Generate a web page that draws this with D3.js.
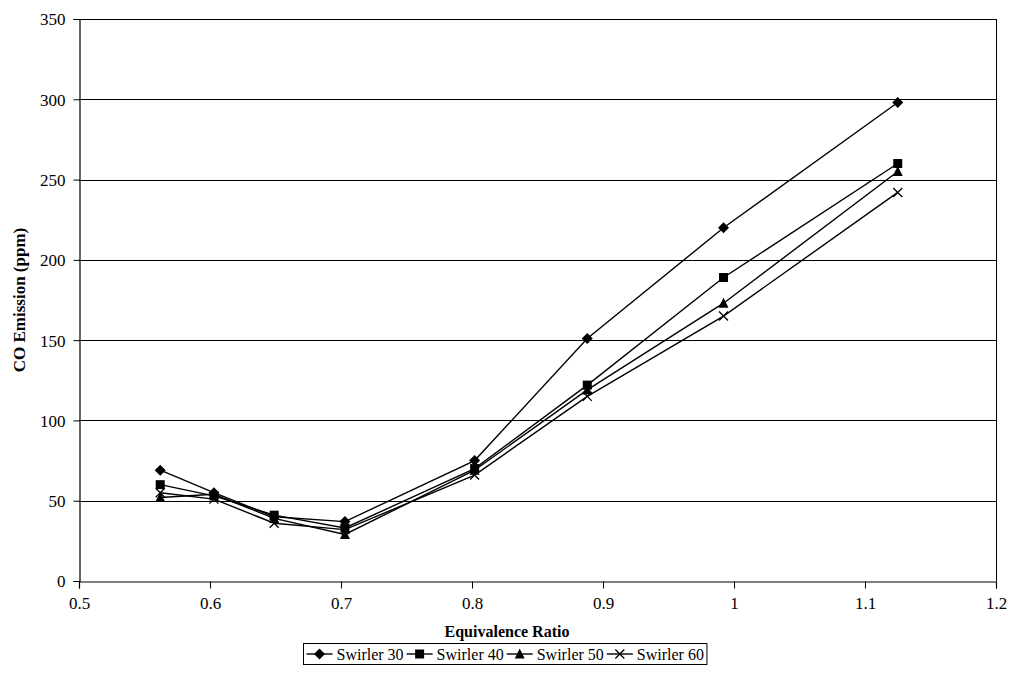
<!DOCTYPE html>
<html>
<head>
<meta charset="utf-8">
<script src="https://cdn.jsdelivr.net/npm/d3@7"></script>
<style>
  html, body { margin: 0; padding: 0; background: #fff; }
  svg { display: block; }
  svg text { font-family: "Liberation Serif", "Times New Roman", serif; fill: #000; }
</style>
</head>
<body>
<svg id="chart" width="1010" height="678"></svg>
<script>
// Equivalence ratio at each measurement
const phi = [0.562, 0.603, 0.649, 0.703, 0.802, 0.888, 0.992, 1.125];

// CO emission (ppm) per swirler
const swirler30 = [69, 55, 40, 37, 75, 151, 220, 298];
const swirler40 = [60, 53, 41, 33, 70, 122, 189, 260];
const swirler50 = [52, 54, 39, 29, 69, 119, 173, 255];
const swirler60 = [55, 51, 36, 32, 66, 115, 165, 242];

const seriesNames = ["Swirler 30", "Swirler 40", "Swirler 50", "Swirler 60"];
const markerKinds = ["diamond", "square", "triangle", "cross"];

const xTicks = [0.5, 0.6, 0.7, 0.8, 0.9, 1.0, 1.1, 1.2];
const yTicks = [0, 50, 100, 150, 200, 250, 300, 350];

const FONT = "'Liberation Serif', 'Times New Roman', serif";

const series = [swirler30, swirler40, swirler50, swirler60].map((vals, i) => ({
  name: seriesNames[i],
  marker: markerKinds[i],
  points: vals.map((v, j) => ({ x: phi[j], y: v }))
}));

const svg = d3.select("#chart");
const plot = { left: 79, top: 19, right: 996, bottom: 581 };

const x = d3.scaleLinear().domain([0.5, 1.2]).range([plot.left, plot.right]);
const y = d3.scaleLinear().domain([0, 350]).range([plot.bottom, plot.top]);

// horizontal gridlines
svg.append("g")
  .selectAll("line")
  .data(yTicks.filter(t => t > 0))
  .join("line")
  .attr("x1", plot.left).attr("x2", plot.right)
  .attr("y1", d => Math.round(y(d)) + 0.5).attr("y2", d => Math.round(y(d)) + 0.5)
  .attr("stroke", "#000").attr("stroke-width", 1);

// right border of plot area
svg.append("line")
  .attr("x1", plot.right + 0.5).attr("x2", plot.right + 0.5)
  .attr("y1", plot.top).attr("y2", plot.bottom)
  .attr("stroke", "#000").attr("stroke-width", 1);

// axes
const fmtX = d => (d === 1 ? "1" : d3.format(".1f")(d));
const xAxis = svg.append("g")
  .attr("transform", `translate(0,${plot.bottom + 0.5})`)
  .call(d3.axisBottom(x).tickValues(xTicks).tickFormat(fmtX).tickSize(7).tickPadding(8));
const yAxis = svg.append("g")
  .attr("transform", `translate(${plot.left + 0.5},0)`)
  .call(d3.axisLeft(y).tickValues(yTicks).tickSize(6).tickPadding(8));

[xAxis, yAxis].forEach(a => {
  a.attr("font-family", FONT).attr("font-size", 17);
  a.selectAll("path.domain").attr("stroke", "#000").attr("stroke-width", 1.2);
  a.selectAll(".tick line").attr("stroke", "#000");
  a.selectAll("text").attr("fill", "#000").attr("font-family", FONT).attr("font-size", 17);
});
yAxis.selectAll("text").attr("dy", "0.35em");

// axis titles
svg.append("text")
  .attr("x", 507)
  .attr("y", 637)
  .attr("text-anchor", "middle")
  .attr("font-family", FONT).attr("font-weight", "bold").attr("font-size", 16)
  .text("Equivalence Ratio");

svg.append("text")
  .attr("transform", `translate(25,${(plot.top + plot.bottom) / 2}) rotate(-90)`)
  .attr("text-anchor", "middle")
  .attr("font-family", FONT).attr("font-weight", "bold").attr("font-size", 17)
  .text("CO Emission (ppm)");

// marker shapes
function drawMarker(g, kind, cx, cy) {
  if (kind === "diamond") {
    g.append("path").attr("d", `M${cx},${cy - 5.5}L${cx + 5.5},${cy}L${cx},${cy + 5.5}L${cx - 5.5},${cy}Z`).attr("fill", "#000");
  } else if (kind === "square") {
    g.append("rect").attr("x", cx - 4.5).attr("y", cy - 4.5).attr("width", 9).attr("height", 9).attr("fill", "#000");
  } else if (kind === "triangle") {
    g.append("path").attr("d", `M${cx},${cy - 5.5}L${cx + 5},${cy + 4.5}L${cx - 5},${cy + 4.5}Z`).attr("fill", "#000");
  } else {
    g.append("path").attr("d", `M${cx - 4.5},${cy - 4.5}L${cx + 4.5},${cy + 4.5}M${cx - 4.5},${cy + 4.5}L${cx + 4.5},${cy - 4.5}`)
      .attr("stroke", "#000").attr("stroke-width", 1.3).attr("fill", "none");
  }
}

const line = d3.line().x(d => x(d.x)).y(d => y(d.y));

const seriesG = svg.append("g");
series.forEach(s => {
  seriesG.append("path")
    .datum(s.points)
    .attr("d", line)
    .attr("fill", "none")
    .attr("stroke", "#000")
    .attr("stroke-width", 1.4);
});
series.forEach(s => {
  const mg = seriesG.append("g");
  s.points.forEach(p => drawMarker(mg, s.marker, x(p.x), y(p.y)));
});

// legend, centred under the chart
const legend = svg.append("g");
const lgH = 21, lgY = 643.5, keyW = 26, gap = 4, itemPad = 3, sidePad = 3;
const texts = series.map((s, i) => legend.append("text")
  .attr("font-family", FONT).attr("font-size", 16)
  .text(s.name));
const widths = texts.map(t => t.node().getComputedTextLength());
const totalW = sidePad * 2 + d3.sum(widths) + series.length * (keyW + gap) + (series.length - 1) * itemPad;
const lgX = Math.round(1010 / 2 - totalW / 2) + 0.5;
legend.insert("rect", "text")
  .attr("x", lgX).attr("y", lgY).attr("width", totalW).attr("height", lgH)
  .attr("fill", "#fff").attr("stroke", "#000").attr("stroke-width", 1);
let cursor = lgX + sidePad;
const cy = lgY + lgH / 2;
series.forEach((s, i) => {
  legend.append("line")
    .attr("x1", cursor).attr("x2", cursor + keyW)
    .attr("y1", cy).attr("y2", cy)
    .attr("stroke", "#000").attr("stroke-width", 1.4);
  drawMarker(legend, s.marker, cursor + keyW / 2, cy);
  texts[i].attr("x", cursor + keyW + gap).attr("y", cy + 5.5);
  cursor += keyW + gap + widths[i] + itemPad;
});
</script>
</body>
</html>
